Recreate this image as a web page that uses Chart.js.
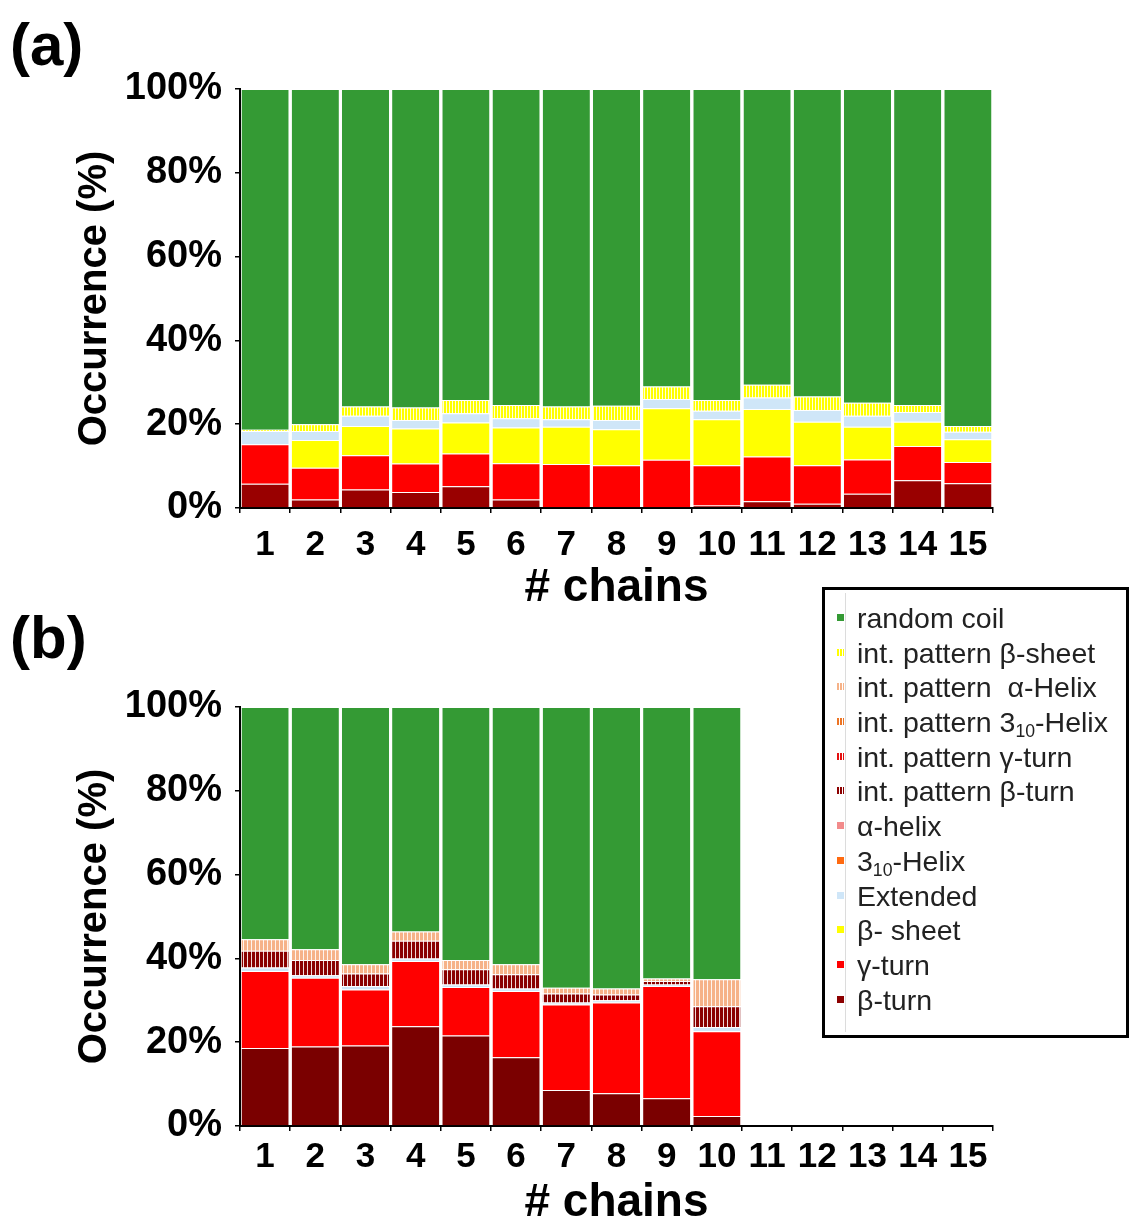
<!DOCTYPE html>
<html>
<head>
<meta charset="utf-8">
<script src="https://cdn.jsdelivr.net/npm/chart.js@4.4.1/dist/chart.umd.min.js"></script>
<style>
    html, body { margin: 0; padding: 0; background: #fff; overflow: hidden; }
    #page { position: relative; width: 1129px; height: 1225px; font-family: "Liberation Sans", Arial, sans-serif; }
    canvas { position: absolute; left: 0; }
    .tag { position: absolute; left: 10px; font-weight: bold; font-size: 60px; line-height: 1; color: #000; }
    #legend {
        position: absolute; left: 822px; top: 587px; width: 307px; height: 451px;
        box-sizing: border-box; border: 3px solid #000; padding-top: 10px;
        font-size: 28.5px; color: #222;
    }
    #legend .rule { position: absolute; left: 20px; top: 3px; bottom: 3px; border-left: 1px solid #dcdcdc; }
    #legend .item { height: 34.7px; line-height: 34.7px; white-space: pre; position: relative; }
    #legend .sw { position: absolute; left: 12px; top: 14px; width: 7px; height: 7px; }
    #legend .tx { position: absolute; left: 32px; top: 1px; }
    #legend sub { font-size: 0.62em; line-height: 0; vertical-align: -0.3em; }
</style>
</head>
<body>
<div id="page">
    <div class="tag" style="top: 15px;">(a)</div>
    <div class="tag" style="top: 608px;">(b)</div>
    <canvas id="chartA" width="1000" height="616" style="top: 0px;"></canvas>
    <canvas id="chartB" width="1000" height="606" style="top: 620px;"></canvas>
    <div id="legend"><div class="rule"></div></div>
</div>
<script>
var chains = ['1', '2', '3', '4', '5', '6', '7', '8', '9', '10', '11', '12', '13', '14', '15'];

// panel (a) - occurrence in %
var aBetaTurn     = [5.8, 2.0, 4.4, 3.8, 5.2, 2.0, 0.0, 0.0, 0.0, 0.6, 1.6, 1.0, 3.4, 6.6, 5.9];
var aGammaTurn    = [9.4, 7.6, 8.2, 6.8, 7.8, 8.7, 10.5, 10.2, 11.5, 9.6, 10.7, 9.2, 8.2, 8.2, 5.1];
var aBetaSheet    = [0.0, 6.6, 7.0, 8.4, 7.4, 8.5, 8.9, 8.6, 12.3, 11.0, 11.3, 10.4, 7.8, 5.8, 5.4];
var aExtended     = [3.2, 2.2, 2.4, 2.0, 2.2, 2.2, 1.8, 2.2, 2.2, 2.0, 2.8, 2.8, 2.6, 2.3, 1.8];
var aIntBetaSheet = [0.3, 1.6, 2.2, 3.0, 3.2, 3.2, 3.0, 3.4, 3.0, 2.6, 3.0, 3.2, 3.1, 1.7, 1.4];
var aRandomCoil   = [81.3, 80.0, 75.8, 76.0, 74.2, 75.4, 75.8, 75.6, 71.0, 74.2, 70.6, 73.4, 74.9, 75.4, 80.4];

// panel (b)
var bBetaTurn     = [18.6, 19.0, 19.2, 23.8, 21.6, 16.4, 8.6, 7.8, 6.6, 2.4, 0, 0, 0, 0, 0];
var bGammaTurn    = [18.4, 16.4, 13.4, 15.6, 11.6, 15.8, 20.4, 21.7, 26.8, 20.2, 0, 0, 0, 0, 0];
var bExtended     = [0.8, 0.6, 0.8, 0.6, 0.6, 0.6, 0.5, 0.5, 0.4, 1.0, 0, 0, 0, 0, 0];
var bIntBetaTurn  = [4.0, 3.6, 3.0, 4.2, 3.6, 3.4, 2.1, 1.4, 0.8, 5.0, 0, 0, 0, 0, 0];
var bIntAlphaHelix = [2.8, 2.6, 2.2, 2.2, 2.2, 2.4, 1.4, 1.4, 0.6, 6.4, 0, 0, 0, 0, 0];
var bRandomCoil   = [55.4, 57.8, 61.4, 53.6, 60.4, 61.4, 67.0, 67.2, 64.8, 65.0, 0, 0, 0, 0, 0];

// legend order (top to bottom); stacking goes the other way
var seriesNames = ['random coil', 'int. pattern β-sheet', 'int. pattern  α-Helix', 'int. pattern 3<sub>10</sub>-Helix',
    'int. pattern γ-turn', 'int. pattern β-turn', 'α-helix', '3<sub>10</sub>-Helix', 'Extended', 'β- sheet', 'γ-turn', 'β-turn'];
var seriesColors = ['#349a34', '#ffff00', '#f6b288', '#ec7424', '#e41010', '#8c0000', '#f28b8b', '#ff6a10', '#cfe6f8', '#ffff00', '#ff0000', '#8c0000'];
var seriesStriped = [false, true, true, true, true, true, false, false, false, false, false, false];

function stripes(color, period) {
    var c = document.createElement('canvas');
    c.width = period;
    c.height = 4;
    var g = c.getContext('2d');
    g.fillStyle = color;
    g.fillRect(0, 0, period, 4);
    g.fillStyle = 'rgba(255,255,255,0.85)';
    g.fillRect(period - 1, 0, 1, 4);
    return g.createPattern(c, 'repeat');
}

function makePanel(canvasId, seriesData, opt) {
    var datasets = [];
    // bottom of the stack first
    for (var i = seriesNames.length - 1; i >= 0; i--) {
        if (!seriesData[i]) continue;
        var color = (opt.colors && opt.colors[i]) || seriesColors[i];
        datasets.push({
            label: seriesNames[i].replace(/<\/?sub>/g, ''),
            data: seriesData[i],
            backgroundColor: seriesStriped[i] ? stripes(color, opt.stripe) : color,
            borderColor: 'rgba(255,255,255,0.35)',
            borderWidth: { top: 1, left: 0, right: 0, bottom: 0 },
            borderSkipped: false,
            barPercentage: 0.94,
            categoryPercentage: 1.0
        });
    }

    var ctx = document.getElementById(canvasId).getContext('2d');
    return new Chart(ctx, {
        type: 'bar',
        data: { labels: chains, datasets: datasets },
        options: {
            responsive: false,
            animation: false,
            layout: { padding: { top: opt.padTop, right: 7, left: 0, bottom: 0 } },
            plugins: { legend: { display: false }, tooltip: { enabled: false } },
            scales: {
                x: {
                    stacked: true,
                    afterFit: function (scale) { scale.height = opt.xHeight; },
                    grid: { drawOnChartArea: false, drawTicks: true, tickLength: 5, color: '#000', lineWidth: 1.5 },
                    border: { display: true, color: '#000', width: 2 },
                    ticks: {
                        color: '#000', padding: opt.xTickPad, maxRotation: 0, autoSkip: false,
                        font: { family: '"Liberation Sans", Arial, sans-serif', size: 35, weight: 'bold' }
                    },
                    title: {
                        display: true, text: '# chains', color: '#000',
                        padding: { top: 0, bottom: opt.titlePadBottom },
                        font: { family: '"Liberation Sans", Arial, sans-serif', size: 46, weight: 'bold', lineHeight: 1 }
                    }
                },
                y: {
                    stacked: true,
                    min: 0,
                    max: 100,
                    afterFit: function (scale) { scale.width = 240; },
                    grid: { drawOnChartArea: false, drawTicks: true, tickLength: 5, color: '#000', lineWidth: 1.5 },
                    border: { display: true, color: '#000', width: 2 },
                    ticks: {
                        stepSize: 10, color: '#000', padding: 13,
                        font: { family: '"Liberation Sans", Arial, sans-serif', size: 38, weight: 'bold' },
                        callback: function (v) { return v % 20 === 0 ? v + '%' : ''; }
                    },
                    title: {
                        display: true, text: 'Occurrence (%)', color: '#000',
                        padding: { top: 75, bottom: 0 },
                        font: { family: '"Liberation Sans", Arial, sans-serif', size: 40, weight: 'bold', lineHeight: 1 }
                    }
                }
            }
        }
    });
}

var panelA = {};
panelA[0] = aRandomCoil;
panelA[1] = aIntBetaSheet;
panelA[8] = aExtended;
panelA[9] = aBetaSheet;
panelA[10] = aGammaTurn;
panelA[11] = aBetaTurn;

var panelB = {};
panelB[0] = bRandomCoil;
panelB[2] = bIntAlphaHelix;
panelB[5] = bIntBetaTurn;
panelB[8] = bExtended;
panelB[10] = bGammaTurn;
panelB[11] = bBetaTurn;

makePanel('chartA', panelA, { padTop: 89, xHeight: 108, xTickPad: 11, titlePadBottom: 5, stripe: 3, colors: { 11: '#990000' } });
makePanel('chartB', panelB, { padTop: 87, xHeight: 100, xTickPad: 5, titlePadBottom: 0, stripe: 4, colors: { 11: '#7a0000', 5: '#8a0000' } });

// legend box, built from the series lists
var legend = document.getElementById('legend');
seriesNames.forEach(function (name, i) {
    var row = document.createElement('div');
    row.className = 'item';
    var sw = document.createElement('span');
    sw.className = 'sw';
    if (seriesStriped[i]) {
        sw.style.background = 'repeating-linear-gradient(90deg, ' + seriesColors[i] + ' 0 2px, #fff 2px 3px)';
    } else {
        sw.style.background = seriesColors[i];
    }
    var tx = document.createElement('span');
    tx.className = 'tx';
    tx.innerHTML = name;
    row.appendChild(sw);
    row.appendChild(tx);
    legend.appendChild(row);
});
</script>
</body>
</html>
